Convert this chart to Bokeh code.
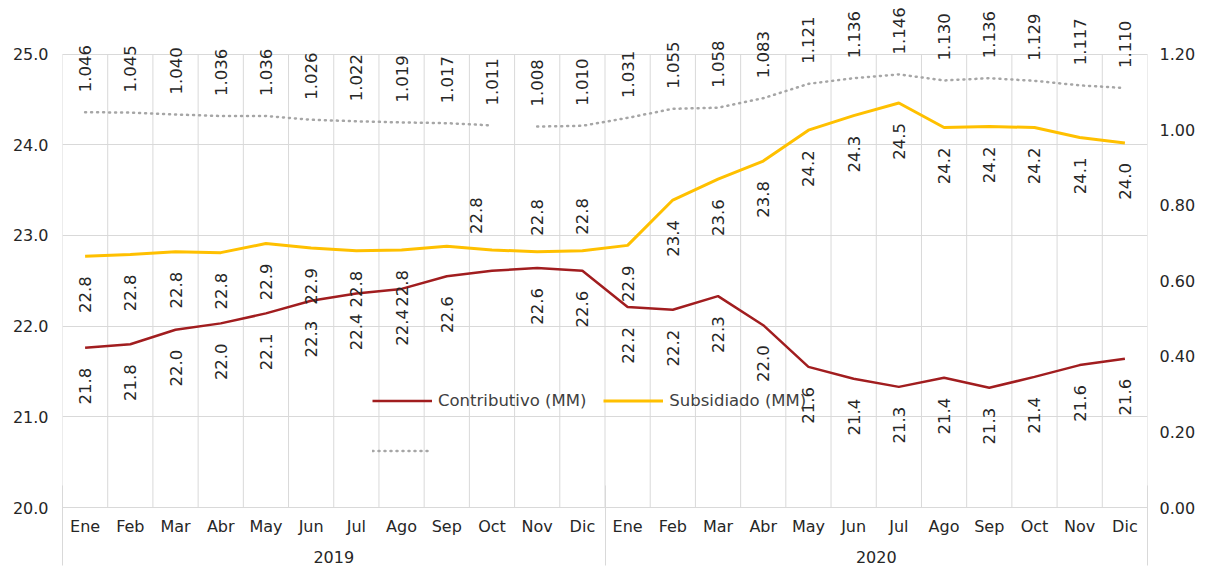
from math import pi
import numpy as np
from bokeh.plotting import figure
from bokeh.models import (Range1d, LinearAxis, FixedTicker, NumeralTickFormatter,
                          ColumnDataSource, LabelSet, Legend, LegendItem)
from bokeh.core.properties import value
from bokeh.embed import file_html
from bokeh.resources import INLINE

# ---------------- data ----------------
months = ["Ene", "Feb", "Mar", "Abr", "May", "Jun", "Jul", "Ago", "Sep", "Oct", "Nov", "Dic"]
years = ["2019", "2020"]
contributivo = [21.76, 21.80, 21.96, 22.03, 22.14, 22.28, 22.36, 22.41, 22.55, 22.61, 22.64, 22.61,
                22.21, 22.18, 22.33, 22.01, 21.55, 21.42, 21.33, 21.43, 21.32, 21.44, 21.57, 21.64]
subsidiado = [22.77, 22.79, 22.82, 22.81, 22.91, 22.86, 22.83, 22.84, 22.88, 22.84, 22.82, 22.83,
              22.89, 23.39, 23.62, 23.82, 24.16, 24.32, 24.46, 24.19, 24.20, 24.19, 24.08, 24.02]
ratio = [1.046, 1.045, 1.040, 1.036, 1.036, 1.026, 1.022, 1.019, 1.017, 1.011, 1.008, 1.010,
         1.031, 1.055, 1.058, 1.083, 1.121, 1.136, 1.146, 1.130, 1.136, 1.129, 1.117, 1.110]
left_ticks = [20, 21, 22, 23, 24, 25]
right_ticks = [0.0, 0.2, 0.4, 0.6, 0.8, 1.0, 1.2]

# label placement (style): "below", "above" or None (hidden)
contrib_lab_pos = ["below"] * 9 + [None] + ["below"] * 14
subsid_lab_pos = ["below"] * 8 + [None, "above", "above", "above"] + ["below"] * 12
subsid_lab_dx = [0] * 9 + [-16] + [0] * 14

# ---------------- styles / layout ----------------
RED = "#A11D1F"
GOLD = "#FFC000"
GREY_DOT = "#A6A6A6"
GRID = "#D9D9D9"
TXT = "#262626"
FONT = "DejaVu Sans"
W, H = 1205, 569
BORDER_BOTTOM = 62
TOP_PAD = 53.5          # free space above the 25.0 gridline (for the rotated labels)

frame_h = H - BORDER_BOTTOM
grow = frame_h / (frame_h - TOP_PAD)
left_top = left_ticks[0] + (left_ticks[-1] - left_ticks[0]) * grow
right_top = right_ticks[0] + (right_ticks[-1] - right_ticks[0]) * grow

n = len(months) * len(years)
xs = np.arange(n) + 0.5
month_labels = months * len(years)

p = figure(width=W, height=H, output_backend="svg", toolbar_location=None,
           x_range=Range1d(0, n), y_range=Range1d(left_ticks[0], left_top),
           min_border_left=62, min_border_right=58, min_border_top=0,
           min_border_bottom=BORDER_BOTTOM)
p.extra_y_ranges = {"right": Range1d(right_ticks[0], right_top)}
p.outline_line_color = None
p.background_fill_color = "white"
p.border_fill_color = "white"

# grids
p.xgrid.visible = False
p.ygrid.ticker = FixedTicker(ticks=left_ticks)
p.ygrid.grid_line_color = GRID
bounds = list(range(n + 1))
p.segment(x0=bounds, y0=[left_ticks[0]] * len(bounds), x1=bounds,
          y1=[left_ticks[-1]] * len(bounds), line_color=GRID, line_width=1)

def style_axis(ax, standoff):
    ax.axis_line_color = None
    ax.major_tick_line_color = None
    ax.minor_tick_line_color = None
    ax.major_tick_out = 0
    ax.major_tick_in = 0
    ax.minor_tick_out = 0
    ax.minor_tick_in = 0
    ax.major_label_standoff = standoff
    ax.major_label_text_font = FONT
    ax.major_label_text_font_size = "16px"
    ax.major_label_text_color = TXT

# left axis
ya = p.yaxis[0]
ya.ticker = FixedTicker(ticks=left_ticks)
ya.formatter = NumeralTickFormatter(format="0.0")
style_axis(ya, 14)

# right axis
ra = LinearAxis(y_range_name="right", ticker=FixedTicker(ticks=right_ticks),
                formatter=NumeralTickFormatter(format="0.00"))
style_axis(ra, 12)
p.add_layout(ra, "right")

# month axis
xa = p.xaxis[0]
xa.ticker = FixedTicker(ticks=list(xs))
xa.major_label_overrides = {float(x): m for x, m in zip(xs, month_labels)}
style_axis(xa, 9)
xa.axis_line_color = GRID

# year axis
year_pos = [i * len(months) + len(months) / 2 for i in range(len(years))]
yax = LinearAxis(ticker=FixedTicker(ticks=year_pos))
yax.major_label_overrides = {float(x): y for x, y in zip(year_pos, years)}
style_axis(yax, 12)
p.add_layout(yax, "below")

# group separators: inward minor ticks of an empty bottom-most axis
sep = LinearAxis(ticker=FixedTicker(ticks=[], minor_ticks=[i * len(months) for i in range(len(years) + 1)]))
style_axis(sep, 0)
sep.major_label_text_font_size = "0px"
sep.minor_tick_line_color = GRID
sep.minor_tick_in = 80
p.add_layout(sep, "below")

# lines
r_c = p.line(xs, contributivo, line_color=RED, line_width=2.5)
r_s = p.line(xs, subsidiado, line_color=GOLD, line_width=3)
r_d1 = p.line(xs[:10], ratio[:10], y_range_name="right", line_color=GREY_DOT,
              line_width=2.5, line_dash="1 5", line_cap="round")
r_d2 = p.line(xs[10:], ratio[10:], y_range_name="right", line_color=GREY_DOT,
              line_width=2.5, line_dash="1 5", line_cap="round")

# data labels
def label_sets(vals, pos, dx, fmt, y_range_name="default"):
    out = []
    for where, align, dy in (("below", "right", -20), ("above", "left", 16)):
        idx = [i for i, w in enumerate(pos) if w == where]
        if not idx:
            continue
        src = ColumnDataSource(dict(
            x=[xs[i] for i in idx], y=[vals[i] for i in idx],
            t=[fmt.format(vals[i]) for i in idx], dx=[dx[i] for i in idx]))
        out.append(LabelSet(x="x", y="y", text="t", source=src, x_offset="dx", y_offset=dy,
                            angle=pi / 2, text_align=align, text_baseline="middle",
                            text_font=value(FONT), text_font_size="16.5px", text_color=TXT,
                            y_range_name=y_range_name))
    return out

for ls in label_sets(contributivo, contrib_lab_pos, [0] * n, "{:.1f}"):
    p.add_layout(ls)
for ls in label_sets(subsidiado, subsid_lab_pos, subsid_lab_dx, "{:.1f}"):
    p.add_layout(ls)
ratio_src = ColumnDataSource(dict(x=list(xs), y=ratio, t=["{:.3f}".format(v) for v in ratio]))
p.add_layout(LabelSet(x="x", y="y", text="t", source=ratio_src, y_range_name="right",
                      y_offset=20, angle=pi / 2, text_align="left", text_baseline="middle",
                      text_font=value(FONT), text_font_size="16.5px", text_color=TXT))

# legend (column-major fill: first column Contributivo + dotted, second Subsidiado)
legend = Legend(items=[LegendItem(label="Contributivo (MM)", renderers=[r_c]),
                       LegendItem(label=" ", renderers=[r_d1]),
                       LegendItem(label="Subsidiado (MM)", renderers=[r_s])],
                ncols=2, location=(310, 40), padding=0, margin=0, spacing=17,
                glyph_width=60, glyph_height=33, label_height=33, label_standoff=6,
                background_fill_alpha=0, border_line_color=None,
                label_text_font=FONT, label_text_font_size="16.5px", label_text_color="#404040")
p.add_layout(legend)

open("out.html", "w").write(file_html(p, INLINE))
